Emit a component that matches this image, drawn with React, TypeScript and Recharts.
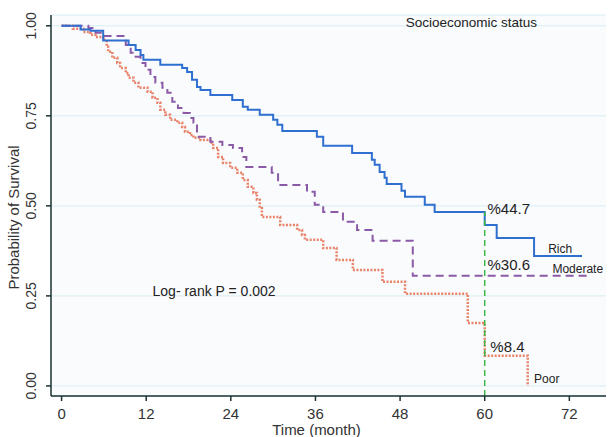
import { LineChart, Line, XAxis, YAxis, CartesianGrid, ReferenceLine, ReferenceDot } from 'recharts'

// Kaplan-Meier steps (time in months, survival probability)
const richT = [0, 2.7, 4.1, 5.9, 9.5, 10.5, 11.2, 11.6, 14.0, 17.1, 17.8, 18.5, 19.2, 19.7, 21.1, 24.2, 25.7, 26.4, 28.1, 30.0, 30.6, 31.3, 36.2, 37.1, 41.2, 44.0, 44.4, 45.1, 45.8, 46.1, 48.2, 48.7, 51.5, 52.9, 60.0, 61.7, 67.0, 73.8]
const richS = [1.0, 0.99, 0.986, 0.959, 0.947, 0.933, 0.919, 0.906, 0.892, 0.883, 0.872, 0.85, 0.83, 0.822, 0.808, 0.794, 0.775, 0.767, 0.753, 0.739, 0.725, 0.708, 0.692, 0.667, 0.647, 0.628, 0.614, 0.594, 0.578, 0.561, 0.542, 0.525, 0.503, 0.483, 0.447, 0.411, 0.361, 0.361]

const modT = [0, 3.8, 4.8, 5.9, 9.1, 9.8, 10.5, 11.2, 11.9, 12.6, 13.3, 14.3, 15.0, 15.7, 16.5, 17.3, 18.2, 18.7, 19.2, 21.1, 22.8, 24.3, 25.6, 26.2, 29.8, 30.7, 34.8, 35.9, 37.1, 39.9, 41.9, 44.1, 49.8, 74.8]
const modS = [1.0, 0.994, 0.981, 0.972, 0.947, 0.925, 0.914, 0.897, 0.878, 0.858, 0.842, 0.828, 0.814, 0.789, 0.772, 0.758, 0.744, 0.731, 0.692, 0.678, 0.669, 0.661, 0.636, 0.608, 0.592, 0.558, 0.539, 0.503, 0.483, 0.456, 0.433, 0.403, 0.306, 0.306]

const poorT = [0, 1.6, 3.1, 4.1, 4.8, 5.9, 6.4, 6.6, 7.2, 7.9, 8.3, 9.1, 9.5, 10.2, 10.9, 12.2, 12.9, 13.6, 14.0, 14.7, 15.4, 16.4, 17.1, 17.5, 18.2, 18.7, 19.7, 21.1, 21.5, 22.2, 22.9, 23.9, 24.9, 25.7, 26.4, 27.2, 27.7, 28.1, 28.4, 31.0, 33.4, 34.1, 34.5, 37.1, 39.0, 41.3, 45.5, 48.7, 57.6, 60.0, 66.1]
const poorS = [1.0, 0.992, 0.983, 0.975, 0.969, 0.961, 0.942, 0.928, 0.911, 0.897, 0.883, 0.869, 0.856, 0.842, 0.828, 0.817, 0.8, 0.786, 0.767, 0.753, 0.739, 0.731, 0.719, 0.706, 0.697, 0.689, 0.683, 0.675, 0.661, 0.636, 0.619, 0.606, 0.592, 0.572, 0.553, 0.536, 0.517, 0.494, 0.469, 0.447, 0.433, 0.419, 0.406, 0.383, 0.35, 0.322, 0.289, 0.256, 0.175, 0.084, 0.0]

const xTicks = [0, 12, 24, 36, 48, 60, 72]
const yTicks = [0, 0.25, 0.5, 0.75, 1]

const cutoff = 60
const richAt60 = '%44.7'
const modAt60 = '%30.6'
const poorAt60 = '%8.4'

const toRows = (t: number[], s: number[]) => t.map((m, i) => ({ t: m, s: s[i] }))
const richData = toRows(richT, richS)
const modData = toRows(modT, modS)
const poorData = toRows(poorT, poorS)

const font = '"Liberation Sans", Arial, sans-serif'
const axisColor = '#1d3232'

const YTick = ({ x, y, payload }: any) => {
  const bx = x - 8
  return (
    <text x={bx} y={y} transform={`rotate(-90 ${bx} ${y})`} textAnchor="middle" fontSize={14} fill="#333" fontFamily={font}>
      {payload.value.toFixed(2)}
    </text>
  )
}

const YTitle = ({ viewBox }: any) => {
  const bx = viewBox.x + 19
  const cy = viewBox.y + viewBox.height / 2 + 12
  return (
    <text x={bx} y={cy} transform={`rotate(-90 ${bx} ${cy})`} textAnchor="middle" fontSize={15} fill="#333" fontFamily={font}>
      Probability of Survival
    </text>
  )
}

const XTitle = ({ viewBox }: any) => (
  <text x={viewBox.x + viewBox.width / 2 - 12} y={viewBox.y + 39} textAnchor="middle" fontSize={15} fill="#333" fontFamily={font}>
    Time (month)
  </text>
)

const note = (text: string, size: number) => ({ viewBox }: any) => (
  <text x={viewBox.x} y={viewBox.y} fontSize={size} fill="#222" fontFamily={font}>{text}</text>
)

export default function App() {
  return (
    <div style={{ position: 'absolute', left: 0, top: 0, width: 608, height: 437, background: '#fff' }}>
      <LineChart width={608} height={437} margin={{ top: 15, right: 2, bottom: 0, left: 0 }}>
        <CartesianGrid vertical={false} stroke="#d6edf3" fill="#fafbfd" />
        <XAxis
          type="number"
          dataKey="t"
          domain={[-1.5, 77.2]}
          ticks={xTicks}
          allowDataOverflow
          height={41}
          tickSize={5}
          tickMargin={7}
          stroke={axisColor}
          strokeWidth={1.5}
          tick={{ fontSize: 15, fill: '#333', fontFamily: font }}
          label={<XTitle />}
        />
        <YAxis
          type="number"
          dataKey="s"
          domain={[-0.028, 1.03]}
          ticks={yTicks}
          allowDataOverflow
          width={51}
          tickSize={5}
          stroke={axisColor}
          strokeWidth={1.5}
          tick={<YTick />}
          label={<YTitle />}
        />
        <Line data={poorData} dataKey="s" type="stepAfter" stroke="#e8836a" strokeWidth={2.5} strokeDasharray="2 1.5" dot={false} isAnimationActive={false} />
        <Line data={modData} dataKey="s" type="stepAfter" stroke="#8a5aa6" strokeWidth={2} strokeDasharray="8 5" dot={false} isAnimationActive={false} />
        <Line data={richData} dataKey="s" type="stepAfter" stroke="#2f6fd0" strokeWidth={2} dot={false} isAnimationActive={false} />
        <ReferenceLine segment={[{ x: cutoff, y: -0.028 }, { x: cutoff, y: 0.483 }]} stroke="#3fb84a" strokeWidth={1.5} strokeDasharray="6 4" />
        <ReferenceDot x={48.8} y={0.997} r={0} label={note('Socioeconomic status', 13.5)} />
        <ReferenceDot x={12.9} y={0.25} r={0} label={note('Log- rank P = 0.002', 14)} />
        <ReferenceDot x={60.4} y={0.478} r={0} label={note(richAt60, 15)} />
        <ReferenceDot x={60.4} y={0.322} r={0} label={note(modAt60, 15)} />
        <ReferenceDot x={60.8} y={0.094} r={0} label={note(poorAt60, 15)} />
        <ReferenceDot x={69.0} y={0.369} r={0} label={note('Rich', 12)} />
        <ReferenceDot x={69.6} y={0.314} r={0} label={note('Moderate', 12)} />
        <ReferenceDot x={67.0} y={0.008} r={0} label={note('Poor', 12)} />
      </LineChart>
    </div>
  )
}
